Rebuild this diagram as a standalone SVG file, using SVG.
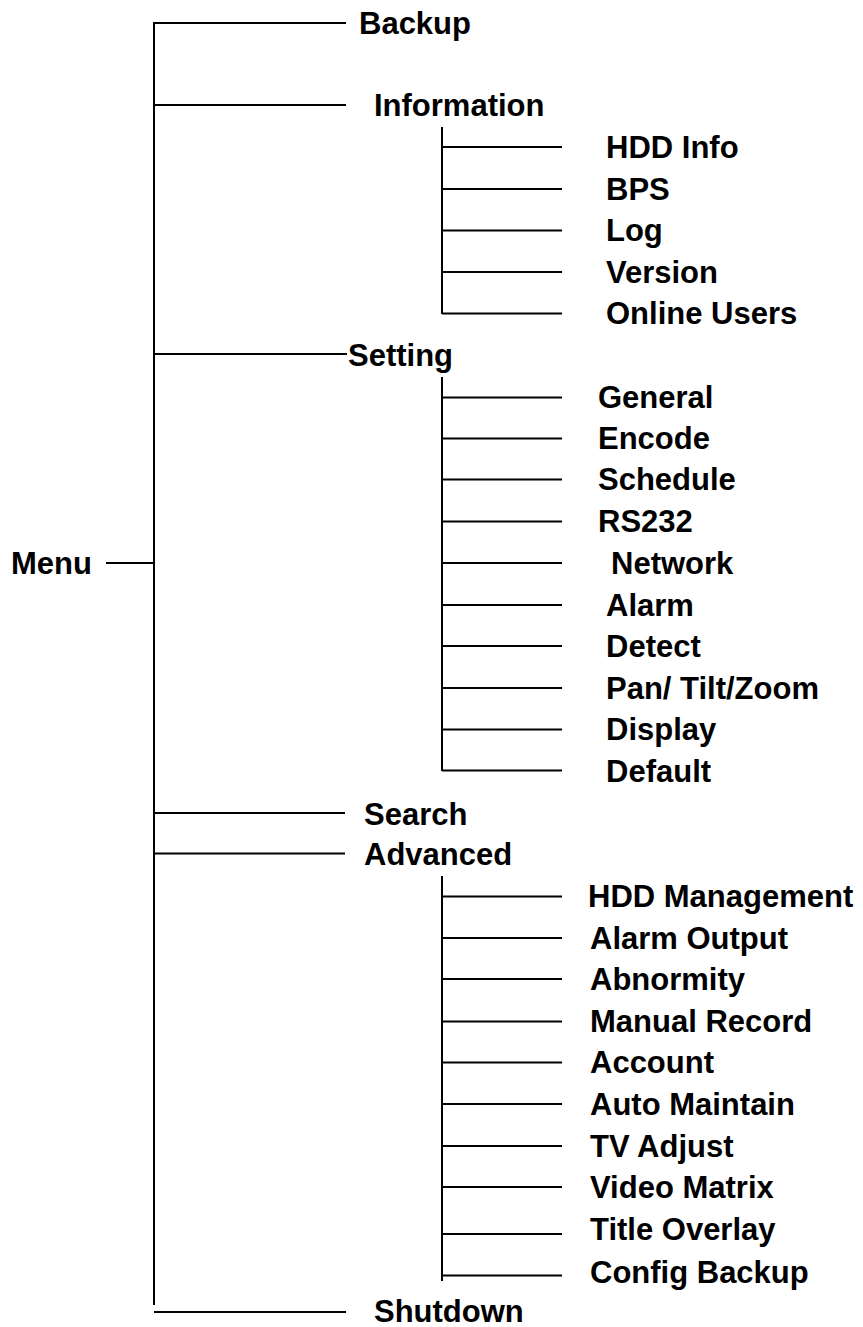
<svg xmlns="http://www.w3.org/2000/svg" width="863" height="1327" viewBox="0 0 863 1327">
<style>
.t{font-family:"Liberation Sans",Arial,sans-serif;font-weight:bold;font-size:31px;fill:#000}
.c line{stroke:#000;stroke-width:2}
</style>
<rect width="863" height="1327" fill="#fff"/>
<g id="connectors" class="c">
<line x1="154" y1="22" x2="154" y2="1305"/>
<line x1="106" y1="563" x2="154" y2="563"/>
<line x1="154" y1="23" x2="346" y2="23"/>
<line x1="154" y1="105" x2="346" y2="105"/>
<line x1="154" y1="354" x2="347" y2="354"/>
<line x1="154" y1="813" x2="345" y2="813"/>
<line x1="154" y1="853.5" x2="345" y2="853.5"/>
<line x1="154" y1="1312" x2="346" y2="1312"/>
<line x1="442" y1="127" x2="442" y2="314"/>
<line x1="442" y1="147" x2="562" y2="147"/>
<line x1="442" y1="189" x2="562" y2="189"/>
<line x1="442" y1="230.5" x2="562" y2="230.5"/>
<line x1="442" y1="272" x2="562" y2="272"/>
<line x1="442" y1="313.5" x2="562" y2="313.5"/>
<line x1="442" y1="377" x2="442" y2="771"/>
<line x1="442" y1="397.5" x2="562" y2="397.5"/>
<line x1="442" y1="438.5" x2="562" y2="438.5"/>
<line x1="442" y1="479.5" x2="562" y2="479.5"/>
<line x1="442" y1="521.5" x2="562" y2="521.5"/>
<line x1="442" y1="563" x2="562" y2="563"/>
<line x1="442" y1="605" x2="562" y2="605"/>
<line x1="442" y1="646" x2="562" y2="646"/>
<line x1="442" y1="688" x2="562" y2="688"/>
<line x1="442" y1="729.5" x2="562" y2="729.5"/>
<line x1="442" y1="770.5" x2="562" y2="770.5"/>
<line x1="442" y1="876" x2="442" y2="1281"/>
<line x1="442" y1="896.5" x2="562" y2="896.5"/>
<line x1="442" y1="938" x2="562" y2="938"/>
<line x1="442" y1="979" x2="562" y2="979"/>
<line x1="442" y1="1021.5" x2="562" y2="1021.5"/>
<line x1="442" y1="1062.5" x2="562" y2="1062.5"/>
<line x1="442" y1="1104" x2="562" y2="1104"/>
<line x1="442" y1="1146" x2="562" y2="1146"/>
<line x1="442" y1="1187" x2="562" y2="1187"/>
<line x1="442" y1="1234" x2="562" y2="1234"/>
<line x1="442" y1="1275.5" x2="562" y2="1275.5"/>
</g>
<g id="menu"><text class="t" x="11" y="574">Menu</text></g>
<g id="backup"><text class="t" x="359" y="34">Backup</text></g>
<g id="information"><text class="t" x="374" y="116">Information</text></g>
<g id="hdd-info"><text class="t" x="606" y="158">HDD Info</text></g>
<g id="bps"><text class="t" x="606" y="200">BPS</text></g>
<g id="log"><text class="t" x="606" y="241">Log</text></g>
<g id="version"><text class="t" x="606" y="283">Version</text></g>
<g id="online-users"><text class="t" x="606" y="324">Online Users</text></g>
<g id="setting"><text class="t" x="348" y="366">Setting</text></g>
<g id="general"><text class="t" x="598" y="408">General</text></g>
<g id="encode"><text class="t" x="598" y="449">Encode</text></g>
<g id="schedule"><text class="t" x="598" y="490">Schedule</text></g>
<g id="rs232"><text class="t" x="598" y="532">RS232</text></g>
<g id="network"><text class="t" x="611" y="574">Network</text></g>
<g id="alarm"><text class="t" x="606" y="616">Alarm</text></g>
<g id="detect"><text class="t" x="606" y="657">Detect</text></g>
<g id="ptz"><text class="t" x="606" y="699">Pan/ Tilt/Zoom</text></g>
<g id="display"><text class="t" x="606" y="740">Display</text></g>
<g id="default"><text class="t" x="606" y="782">Default</text></g>
<g id="search"><text class="t" x="364" y="825">Search</text></g>
<g id="advanced"><text class="t" x="364" y="865">Advanced</text></g>
<g id="hdd-management"><text class="t" x="588" y="907">HDD Management</text></g>
<g id="alarm-output"><text class="t" x="590" y="949">Alarm Output</text></g>
<g id="abnormity"><text class="t" x="590" y="990">Abnormity</text></g>
<g id="manual-record"><text class="t" x="590" y="1032">Manual Record</text></g>
<g id="account"><text class="t" x="590" y="1073">Account</text></g>
<g id="auto-maintain"><text class="t" x="590" y="1115">Auto Maintain</text></g>
<g id="tv-adjust"><text class="t" x="590" y="1157">TV Adjust</text></g>
<g id="video-matrix"><text class="t" x="590" y="1198">Video Matrix</text></g>
<g id="title-overlay"><text class="t" x="590" y="1240">Title Overlay</text></g>
<g id="config-backup"><text class="t" x="590" y="1283">Config Backup</text></g>
<g id="shutdown"><text class="t" x="374" y="1322">Shutdown</text></g>
</svg>
